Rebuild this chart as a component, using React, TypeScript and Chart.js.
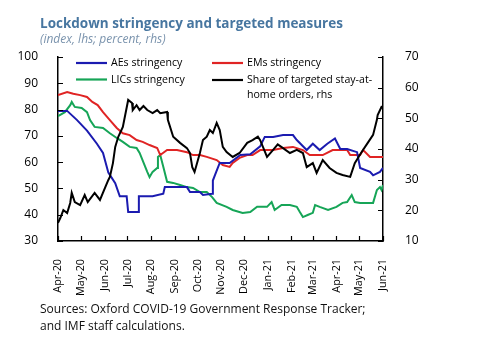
import React, { useEffect, useRef } from "react";
import { Chart, registerables } from "chart.js";

Chart.register(...registerables);

// ---- Data (x = days since 1 Apr 2020) ----
const monthTickDays = [0, 30, 61, 91, 122, 153, 183, 214, 244, 275, 306, 334, 365, 395, 426];
const monthTickLabels = [
  "Apr-20", "May-20", "Jun-20", "Jul-20", "Aug-20", "Sep-20", "Oct-20", "Nov-20",
  "Dec-20", "Jan-21", "Feb-21", "Mar-21", "Apr-21", "May-21", "Jun-21",
];
const leftAxisMin = 30;
const leftAxisMax = 100;
const rightAxisMin = 10;
const rightAxisMax = 70;

const aesDays = [0, 12, 25, 38, 51, 59, 66, 75, 81, 90, 92, 105, 106, 124, 138, 140, 169, 173, 186, 190, 202, 203, 207, 212, 225, 239, 252, 265, 271, 282, 295, 308, 313, 326, 334, 343, 353, 363, 370, 379, 392, 396, 409, 413, 422, 426];
const aesValues = [79.5, 79.5, 76, 72, 67, 63.5, 56, 52, 47, 47, 41, 41, 47, 47, 48, 50.5, 50.5, 48.6, 48.6, 47.5, 48, 53, 56, 59.7, 59.7, 62.7, 63, 66, 69.6, 69.6, 70.3, 70.3, 68.4, 64.6, 67, 64.6, 67, 69, 65, 65, 63.8, 57.8, 56.3, 55, 56.3, 57.8];

const emsDays = [0, 12, 20, 29, 38, 45, 52, 59, 68, 77, 85, 94, 103, 111, 120, 130, 134, 143, 156, 169, 177, 186, 195, 208, 216, 225, 229, 238, 248, 255, 265, 282, 295, 308, 321, 330, 347, 360, 379, 383, 396, 400, 409, 426];
const emsValues = [85.5, 86.7, 86, 85.5, 84.8, 82.9, 81.7, 79, 76, 73, 71, 70.3, 68.4, 67.7, 66.5, 65.4, 62.7, 64.6, 64.6, 63.8, 62.7, 62.7, 62, 60.8, 58.9, 58.2, 59.7, 61.6, 62.7, 62.7, 64.6, 64.6, 65.4, 65.8, 64.6, 62.7, 62.7, 64.6, 64.6, 62.7, 62.7, 64.6, 62, 62];

const licsDays = [0, 9, 16, 18, 22, 31, 38, 42, 48, 59, 68, 77, 85, 94, 103, 107, 117, 120, 124, 130, 131, 134, 138, 143, 151, 160, 169, 177, 186, 195, 202, 208, 221, 229, 242, 252, 261, 274, 280, 284, 293, 304, 313, 317, 321, 328, 334, 337, 343, 354, 365, 373, 379, 385, 389, 396, 413, 418, 422, 424, 426];
const licsValues = [77.5, 79, 81.7, 82.9, 81, 80.6, 79, 76, 73.4, 73, 71, 69.2, 67.7, 65.8, 65.4, 63.5, 56.3, 54.3, 56.3, 57.8, 62, 62.7, 58.2, 52.5, 52.1, 51.3, 50.5, 50.2, 48.6, 48.6, 46.7, 44.5, 43, 41.8, 40.7, 41, 43, 43, 44.8, 41.8, 43.7, 43.7, 43, 41, 39.1, 40, 40.7, 43.7, 43, 41.8, 43, 44.5, 44.8, 47.5, 44.8, 44.5, 44.5, 49.4, 50.5, 49.4, 51.3];

const shareDays = [0, 3, 7, 12, 16, 18, 22, 29, 35, 39, 48, 55, 62, 66, 68, 72, 75, 79, 85, 92, 97, 98, 103, 107, 112, 117, 124, 130, 134, 143, 144, 151, 160, 169, 173, 176, 179, 186, 190, 195, 199, 203, 208, 212, 216, 221, 229, 238, 248, 255, 262, 265, 274, 282, 288, 295, 304, 313, 321, 326, 334, 339, 347, 356, 365, 373, 383, 389, 398, 406, 413, 418, 419, 424, 426];
const shareValues = [15.9, 17.5, 20.1, 19.1, 22.4, 25.7, 22.7, 21.7, 25, 22.7, 25.7, 23.4, 27.6, 29.9, 30.9, 35.4, 40.7, 44, 47.2, 56, 55, 52.7, 54.3, 52.7, 54, 52.7, 51.7, 52.7, 51.7, 52.1, 49.5, 44, 42, 40.3, 38.7, 34.1, 32.5, 38.7, 42.9, 44, 46.2, 45.2, 48.5, 46.2, 40.7, 39, 37.4, 38.7, 42, 42.9, 44, 42.9, 37.4, 39.7, 41.5, 40.3, 38.7, 39.7, 38.7, 34.1, 35.4, 32.2, 36.4, 33.8, 32.2, 31.5, 30.9, 35.4, 39, 42, 44.6, 49.5, 51.1, 53.7, 53.4];

const seriesLabels = ["AEs stringency", "EMs stringency", "LICs stringency", "Share of targeted stay-at-home orders, rhs"];
const seriesColors = ["#1b1bb0", "#e02424", "#16a557", "#000000"];

const FONT = "'Open Sans', 'Noto Sans', sans-serif";

function toPoints(days: number[], vals: number[]) {
  return days.map((d, i) => ({ x: d, y: vals[i] }));
}

const decorPlugin = {
  id: "decor",
  afterDatasetsDraw(chart: any) {
    const ctx = chart.ctx as CanvasRenderingContext2D;
    const { left, right, bottom } = chart.chartArea;
    const xs = chart.scales.x;
    const ys = chart.scales.y;
    const y2 = chart.scales.y2;
    ctx.save();
    ctx.strokeStyle = "#000";
    ctx.lineWidth = 1.2;
    const tl = 5;
    ctx.beginPath();
    xs.ticks.forEach((t: any) => {
      const px = Math.round(xs.getPixelForValue(t.value)) + 0.5;
      ctx.moveTo(px, bottom);
      ctx.lineTo(px, bottom - tl);
    });
    ys.ticks.forEach((t: any) => {
      const py = Math.round(ys.getPixelForValue(t.value)) + 0.5;
      ctx.moveTo(left, py);
      ctx.lineTo(left + tl, py);
    });
    y2.ticks.forEach((t: any) => {
      const py = Math.round(y2.getPixelForValue(t.value)) + 0.5;
      ctx.moveTo(right, py);
      ctx.lineTo(right - tl, py);
    });
    ctx.stroke();

    // legend
    ctx.font = `10.6px ${FONT}`;
    ctx.fillStyle = "#000";
    ctx.textBaseline = "middle";
    ctx.textAlign = "left";
    const entries = [
      { i: 0, x: 76, y: 63, lines: [seriesLabels[0]] },
      { i: 2, x: 76, y: 79.5, lines: [seriesLabels[2]] },
      { i: 1, x: 212, y: 63, lines: [seriesLabels[1]] },
      { i: 3, x: 212, y: 80, lines: ["Share of targeted stay-at-", "home orders, rhs"] },
    ];
    entries.forEach((e) => {
      ctx.strokeStyle = seriesColors[e.i];
      ctx.lineWidth = 2.2;
      ctx.beginPath();
      ctx.moveTo(e.x, e.y);
      ctx.lineTo(e.x + 31, e.y);
      ctx.stroke();
      e.lines.forEach((ln, k) => ctx.fillText(ln, e.x + 35, e.y + k * 14.5));
    });

    // title, subtitle, sources
    ctx.textBaseline = "alphabetic";
    ctx.font = `bold 13.5px ${FONT}`;
    ctx.fillStyle = "#4776a0";
    ctx.fillText("Lockdown stringency and targeted measures", 40, 28);
    ctx.font = `italic 12px ${FONT}`;
    ctx.fillStyle = "#7a93ad";
    ctx.fillText("(index, lhs; percent, rhs)", 40, 43);
    ctx.font = `12px ${FONT}`;
    ctx.fillStyle = "#111";
    ctx.fillText("Sources: Oxford COVID-19 Government Response Tracker;", 40, 313);
    ctx.fillText("and IMF staff calculations.", 40, 330);
    ctx.restore();
  },
};

export default function App() {
  const ref = useRef<HTMLCanvasElement | null>(null);
  useEffect(() => {
    if (!ref.current) return;
    const common = { borderWidth: 2, pointRadius: 0, tension: 0, fill: false };
    const chart = new Chart(ref.current, {
      type: "line",
      data: {
        datasets: [
          { ...common, label: seriesLabels[3], data: toPoints(shareDays, shareValues), borderColor: seriesColors[3], yAxisID: "y2", order: 0 },
          { ...common, label: seriesLabels[0], data: toPoints(aesDays, aesValues), borderColor: seriesColors[0], yAxisID: "y", order: 1 },
          { ...common, label: seriesLabels[1], data: toPoints(emsDays, emsValues), borderColor: seriesColors[1], yAxisID: "y", order: 2 },
          { ...common, label: seriesLabels[2], data: toPoints(licsDays, licsValues), borderColor: seriesColors[2], yAxisID: "y", order: 3 },
        ],
      },
      options: {
        animation: false,
        responsive: false,
        maintainAspectRatio: false,
        layout: { padding: { top: 57, left: 0, right: 0, bottom: 0 } },
        plugins: { legend: { display: false }, tooltip: { enabled: false }, title: { display: false } },
        scales: {
          x: {
            type: "linear",
            min: monthTickDays[0],
            max: monthTickDays[monthTickDays.length - 1],
            grid: { display: false },
            border: { display: true, color: "#000", width: 1.5 },
            afterBuildTicks: (scale: any) => {
              scale.ticks = monthTickDays.map((v) => ({ value: v }));
            },
            afterFit: (scale: any) => {
              scale.height = 116;
            },
            ticks: {
              autoSkip: false,
              maxRotation: 90,
              minRotation: 90,
              padding: 10,
              color: "#000",
              font: { family: FONT, size: 10.8 },
              callback: (_v: any, i: number) => monthTickLabels[i],
            },
          },
          y: {
            position: "left",
            min: leftAxisMin,
            max: leftAxisMax,
            grid: { display: false },
            border: { display: true, color: "#000", width: 1.5 },
            afterFit: (scale: any) => {
              scale.width = 58;
            },
            ticks: { stepSize: 10, padding: 12, color: "#000", font: { family: FONT, size: 12 } },
          },
          y2: {
            position: "right",
            min: rightAxisMin,
            max: rightAxisMax,
            grid: { display: false },
            border: { display: true, color: "#000", width: 1.5 },
            afterFit: (scale: any) => {
              scale.width = 112;
            },
            ticks: { stepSize: 10, padding: 14, color: "#000", font: { family: FONT, size: 12 } },
          },
        },
      },
      plugins: [decorPlugin],
    });
    return () => chart.destroy();
  }, []);
  return (
    <div style={{ position: "fixed", left: 0, top: 0, width: 495, height: 357, background: "#fff" }}>
      <canvas ref={ref} width={495} height={357} style={{ width: 495, height: 357, display: "block" }} />
    </div>
  );
}
